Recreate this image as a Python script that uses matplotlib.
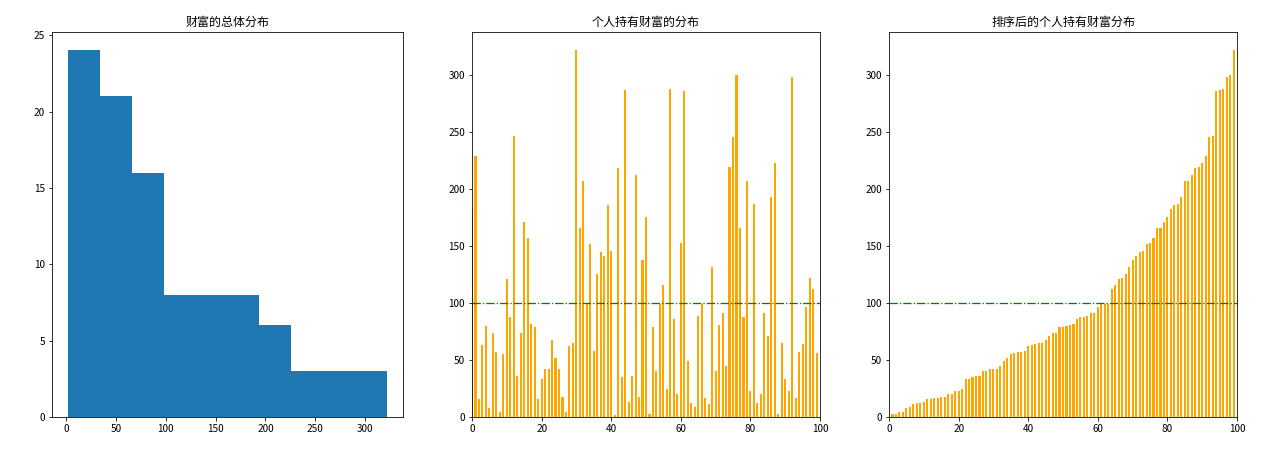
import numpy as np
import matplotlib
matplotlib.use('Agg')
import matplotlib.pyplot as plt

plt.rcParams['font.family'] = ['Noto Sans CJK SC', 'DejaVu Sans']

# 每个人持有的财富
wealth = [183, 229, 16, 63, 80, 8, 74, 57, 4, 55,
          121, 88, 247, 36, 74, 171, 157, 82, 79, 16,
          33, 42, 42, 68, 52, 42, 18, 4, 62, 65,
          322, 166, 207, 99, 152, 58, 126, 145, 141, 186,
          146, 2, 219, 35, 287, 13, 36, 213, 18, 138,
          176, 3, 79, 40, 99, 116, 25, 288, 86, 20,
          153, 286, 49, 12, 9, 89, 99, 17, 11, 132,
          40, 81, 91, 45, 220, 246, 300, 166, 88, 207,
          23, 187, 12, 20, 91, 71, 193, 223, 3, 65,
          33, 23, 299, 17, 57, 64, 97, 122, 112, 56]
people = list(range(len(wealth)))
avg_line = 100

fig = plt.figure(figsize=(1261 / 72, 455 / 72), dpi=72)

ax1 = fig.add_axes([0.0412, 0.0835, 0.2784, 0.846])
ax1.hist(wealth, bins=10)
ax1.set_title('财富的总体分布')

ax2 = fig.add_axes([0.3743, 0.0835, 0.276, 0.846])
ax2.bar(people, wealth, color='orange', width=0.6)
ax2.axhline(avg_line, color='g', linestyle='-.', lw=1.3)
ax2.set_xlim(0, 100)
ax2.set_title('个人持有财富的分布')

ax3 = fig.add_axes([0.705, 0.0835, 0.276, 0.846])
ax3.bar(people, sorted(wealth), color='orange', width=0.6)
ax3.axhline(avg_line, color='g', linestyle='-.', lw=1.3)
ax3.set_xlim(0, 100)
ax3.set_title('排序后的个人持有财富分布')

fig.savefig('out.png', dpi=72)
